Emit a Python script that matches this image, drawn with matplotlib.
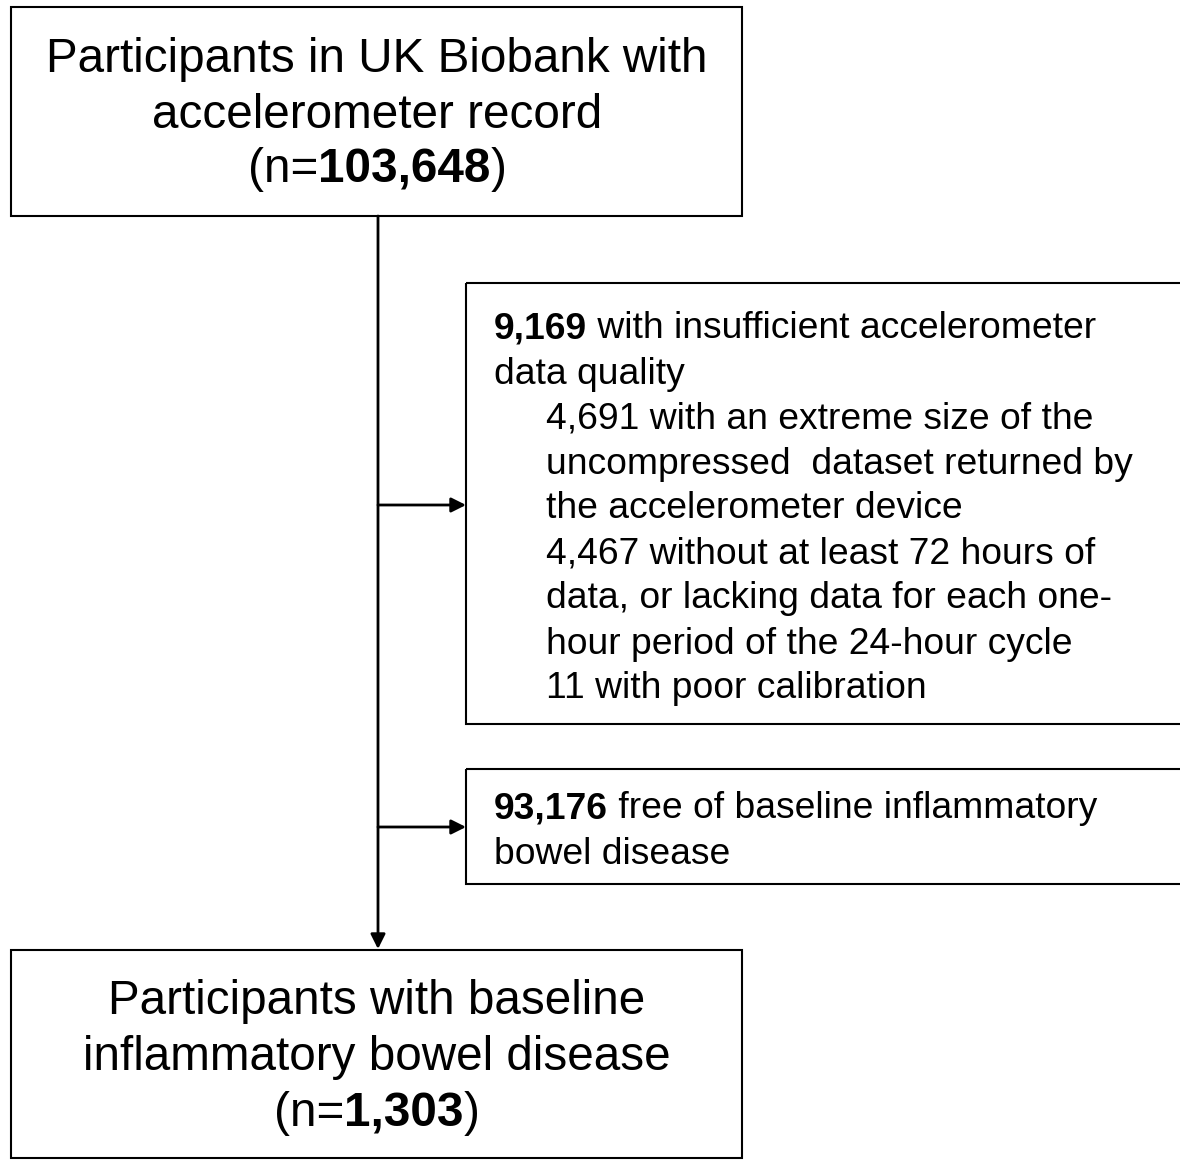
import matplotlib.pyplot as plt
from matplotlib.patches import Rectangle

plt.rcParams["font.family"] = ["Liberation Sans", "DejaVu Sans"]

W, H = 1180, 1160

# text content of the flowchart
top_lines = [
    [("Participants in UK Biobank with", "normal")],
    [("accelerometer record", "normal")],
    [("(n=", "normal"), ("103,648", "bold"), (")", "normal")],
]
excl1_lines = [
    [("9,169", "bold"), (" with insufficient accelerometer", "normal")],
    [("data quality", "normal")],
    [("4,691 with an extreme size of the", "normal")],
    [("uncompressed  dataset returned by", "normal")],
    [("the accelerometer device", "normal")],
    [("4,467 without at least 72 hours of", "normal")],
    [("data, or lacking data for each one-", "normal")],
    [("hour period of the 24-hour cycle", "normal")],
    [("11 with poor calibration", "normal")],
]
excl1_indent = [0, 0, 1, 1, 1, 1, 1, 1, 1]
excl2_lines = [
    [("93,176", "bold"), (" free of baseline inflammatory", "normal")],
    [("bowel disease", "normal")],
]
bottom_lines = [
    [("Participants with baseline", "normal")],
    [("inflammatory bowel disease", "normal")],
    [("(n=", "normal"), ("1,303", "bold"), (")", "normal")],
]

fig = plt.figure(figsize=(W / 100, H / 100), dpi=100)
ax = fig.add_axes([0, 0, 1, 1])
ax.set_xlim(0, W)
ax.set_ylim(H, 0)
ax.axis("off")
fig.canvas.draw()
renderer = fig.canvas.get_renderer()


def text_width(s, size, weight):
    t = ax.text(0, 0, s, fontsize=size, fontweight=weight)
    bb = t.get_window_extent(renderer)
    t.remove()
    return bb.width


def draw_line(segs, x, y, size, center=False):
    widths = [text_width(s, size, w) for s, w in segs]
    if center:
        x = x - sum(widths) / 2
    for (s, w), wd in zip(segs, widths):
        ax.text(x, y, s, fontsize=size, fontweight=w, va="center", ha="left")
        x += wd


def box(x0, y0, x1, y1):
    ax.add_patch(Rectangle((x0, y0), x1 - x0, y1 - y0, fill=False,
                           edgecolor="black", linewidth=1.5, clip_on=False))


# boxes
box(11, 7, 742, 216)
box(466, 283, 1190, 724)
box(466, 769, 1190, 884)
box(11, 950, 742, 1158)

# main vertical line and arrows
ax.annotate("", xy=(378, 949), xytext=(378, 216),
            arrowprops=dict(arrowstyle="-|>", color="black", lw=2,
                            mutation_scale=22, shrinkA=0, shrinkB=0))
for ya in (505, 827):
    ax.annotate("", xy=(466, ya), xytext=(378, ya),
                arrowprops=dict(arrowstyle="-|>", color="black", lw=2,
                                mutation_scale=22, shrinkA=0, shrinkB=0))

big = 34.3
small = 26.8
for i, segs in enumerate(top_lines):
    draw_line(segs, 377, 60 + 55 * i, big, center=True)
for i, segs in enumerate(bottom_lines):
    draw_line(segs, 377, 1002 + 56 * i, big, center=True)
for i, segs in enumerate(excl1_lines):
    draw_line(segs, 494 + 52 * excl1_indent[i], 329 + 45 * i, small)
for i, segs in enumerate(excl2_lines):
    draw_line(segs, 494, 809 + 45 * i, small)

fig.savefig("out.png", dpi=100)
